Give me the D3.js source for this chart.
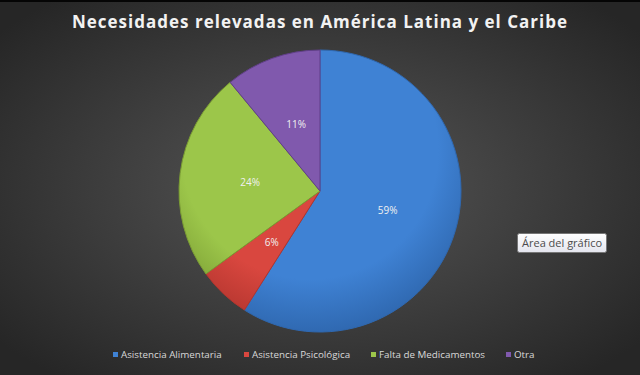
<!DOCTYPE html>
<html>
<head>
<meta charset="utf-8">
<script src="https://cdn.jsdelivr.net/npm/d3@7"></script>
<style>
body { margin:0; padding:0; background:#2e2e2e; }
svg { display:block; }
</style>
</head>
<body>
<svg id="chart"></svg>
<script>
var categories = ["Asistencia Alimentaria", "Asistencia Psicológica", "Falta de Medicamentos", "Otra"];
var values = [59, 6, 24, 11];
var colors = ["#3f82d4", "#d9473f", "#9cc64a", "#8059ad"];
var darkColors = ["#2f68b0", "#b3352e", "#7a9c33", "#603f88"];

var screen = {width:640, height:375}
var svg = d3.select("#chart")
	.attr("width", screen.width)
	.attr("height", screen.height)

var defs = svg.append("defs")
var bg = defs.append("radialGradient")
	.attr("id", "bg")
	.attr("cx", "50%").attr("cy", "50%").attr("r", "65%")
bg.append("stop").attr("offset", "0%").attr("stop-color", "#575757")
bg.append("stop").attr("offset", "100%").attr("stop-color", "#262626")

svg.append("rect")
	.attr("width", screen.width)
	.attr("height", screen.height)
	.attr("fill", "url(#bg)")
svg.append("rect")
	.attr("width", screen.width)
	.attr("height", 2)
	.attr("fill", "#050505")

//----------title-------------
svg.append("text")
	.text("Necesidades relevadas en América Latina y el Caribe")
	.attr("x", 320)
	.attr("y", 28)
	.attr("text-anchor", "middle")
	.attr("fill", "#f2f2f2")
	.style("font-family", "'Open Sans', sans-serif")
	.style("font-weight", "bold")
	.style("font-size", "17px")
	.style("letter-spacing", "1px")

//----------pie-------------
var cx = 320, cy = 191, radius = 141

colors.forEach(function(c, i)
{
	// gradient coords are in the pie group's space (centre = 0,0)
	var g = defs.append("radialGradient")
		.attr("id", "slice" + i)
		.attr("gradientUnits", "userSpaceOnUse")
		.attr("cx", -10).attr("cy", -40).attr("r", radius * 1.3)
	g.append("stop").attr("offset", "0%").attr("stop-color", c)
	g.append("stop").attr("offset", "70%").attr("stop-color", c)
	g.append("stop").attr("offset", "100%").attr("stop-color", darkColors[i])
})

var pie = d3.pie().sort(null).value(function(d) { return d })
var arc = d3.arc().innerRadius(0).outerRadius(radius)
var arcs = pie(values)

var target = svg.append("g")
	.attr("transform", "translate(" + cx + "," + cy + ")")

target.selectAll("path")
	.data(arcs)
	.enter()
	.append("path")
	.attr("d", arc)
	.attr("fill", function(d, i) { return "url(#slice" + i + ")" })
	.attr("stroke", function(d, i) { return darkColors[i] })
	.attr("stroke-width", 1)

target.selectAll("text")
	.data(arcs)
	.enter()
	.append("text")
	.text(function(d) { return d.value + "%" })
	.attr("transform", function(d) { return "translate(" + arc.centroid(d) + ")" })
	.attr("text-anchor", "middle")
	.attr("dy", "0.35em")
	.attr("fill", "#f0f0f0")
	.style("font-family", "'Open Sans', sans-serif")
	.style("font-size", "10px")

//----------legend-------------
var legendX = [113, 244, 371, 506]
var legend = svg.append("g")
var items = legend.selectAll("g")
	.data(categories)
	.enter()
	.append("g")
	.attr("transform", function(d, i) { return "translate(" + legendX[i] + ",355)" })
items.append("rect")
	.attr("x", 0).attr("y", -3)
	.attr("width", 5).attr("height", 5)
	.attr("fill", function(d, i) { return colors[i] })
items.append("text")
	.text(function(d) { return d })
	.attr("x", 8)
	.attr("dy", "0.35em")
	.attr("fill", "#d9d9d9")
	.style("font-family", "'Open Sans', sans-serif")
	.style("font-size", "9.8px")

//----------tooltip-------------
var tipG = defs.append("linearGradient")
	.attr("id", "tip").attr("x1", 0).attr("y1", 0).attr("x2", 0).attr("y2", 1)
tipG.append("stop").attr("offset", "0%").attr("stop-color", "#ffffff")
tipG.append("stop").attr("offset", "100%").attr("stop-color", "#e4e5ee")
svg.append("rect")
	.attr("x", 517.5).attr("y", 233.5)
	.attr("width", 89).attr("height", 19)
	.attr("rx", 2)
	.attr("fill", "url(#tip)")
	.attr("stroke", "#767676")
svg.append("text")
	.text("Área del gráfico")
	.attr("x", 522)
	.attr("y", 247)
	.attr("fill", "#4c4c4c")
	.style("font-family", "'Open Sans', sans-serif")
	.style("font-size", "11px")
</script>
</body>
</html>
